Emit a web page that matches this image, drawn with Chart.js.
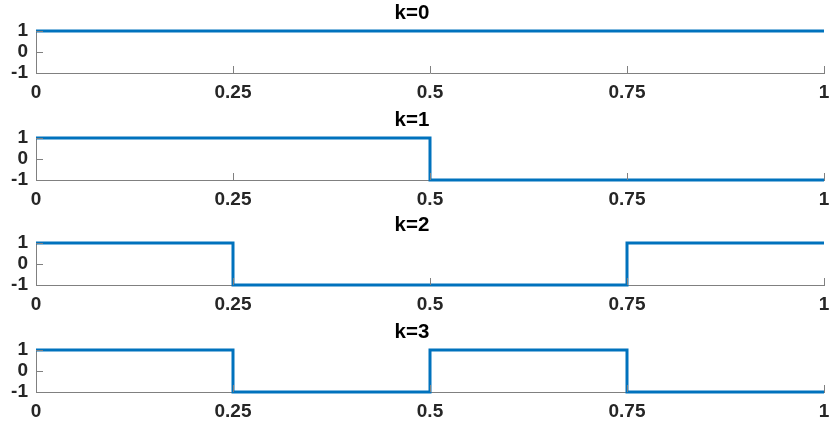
<!DOCTYPE html>
<html>
<head>
<meta charset="utf-8">
<script src="https://cdn.jsdelivr.net/npm/chart.js@4.4.1/dist/chart.umd.min.js"></script>
<style>
  html, body { margin: 0; padding: 0; background: #fff; }
  #wrap { position: relative; width: 830px; height: 425px; }
  .panel { position: absolute; left: 0; width: 830px; height: 107px; }
</style>
</head>
<body>
<div id="wrap">
  <div class="panel" style="top:0px"><canvas id="c0"></canvas></div>
  <div class="panel" style="top:107px"><canvas id="c1"></canvas></div>
  <div class="panel" style="top:212px"><canvas id="c2"></canvas></div>
  <div class="panel" style="top:319px"><canvas id="c3"></canvas></div>
</div>
<script>
// Walsh functions, one value per quarter of [0, 1]
const breakpoints = [0, 0.25, 0.5, 0.75, 1];
const titles = ['k=0', 'k=1', 'k=2', 'k=3'];
const walsh0 = [1, 1, 1, 1];
const walsh1 = [1, 1, -1, -1];
const walsh2 = [1, -1, -1, 1];
const walsh3 = [1, -1, 1, -1];
const xTicks = [0, 0.25, 0.5, 0.75, 1];
const yTicks = [-1, 0, 1];

const series = [walsh0, walsh1, walsh2, walsh3];
const axisColor = '#808080';
const textColor = '#262626';
const fontFamily = "'Liberation Sans', Arial, sans-serif";

// MATLAB-style inward tick marks
const inwardTicks = {
    id: 'inwardTicks',
    afterDraw(chart) {
        const { ctx, scales: { x, y } } = chart;
        ctx.save();
        ctx.strokeStyle = axisColor;
        ctx.lineWidth = 1;
        ctx.beginPath();
        xTicks.forEach(v => {
            const px = Math.round(x.getPixelForValue(v)) + 0.5;
            ctx.moveTo(px, y.bottom);
            ctx.lineTo(px, y.bottom - 7);
        });
        yTicks.forEach(v => {
            const py = Math.round(y.getPixelForValue(v)) + 0.5;
            ctx.moveTo(x.left, py);
            ctx.lineTo(x.left + 7, py);
        });
        ctx.stroke();
        ctx.restore();
    }
};

series.forEach((vals, i) => {
    // point j carries the value of quarter j; the last point closes the final quarter
    const points = breakpoints.map((bx, j) => ({ x: bx, y: vals[Math.min(j, vals.length - 1)] }));
    new Chart(document.getElementById('c' + i), {
        type: 'line',
        data: {
            datasets: [{
                data: points,
                borderColor: '#0072BD',
                borderWidth: 3,
                pointRadius: 0,
                stepped: 'before',
                clip: false
            }]
        },
        options: {
            responsive: true,
            maintainAspectRatio: false,
            animation: false,
            events: [],
            layout: { padding: { left: 0, right: 6, top: 0, bottom: 0 } },
            plugins: {
                legend: { display: false },
                tooltip: { enabled: false },
                title: {
                    display: true,
                    text: titles[i],
                    color: '#000',
                    font: { family: fontFamily, size: 20.5, weight: 'bold' },
                    padding: { top: 1.5, bottom: 4.9 }
                }
            },
            scales: {
                x: {
                    type: 'linear',
                    min: 0,
                    max: 1,
                    afterBuildTicks: s => { s.ticks = xTicks.map(v => ({ value: v })); },
                    afterFit: s => { s.height = 34; s.paddingLeft = 0; s.paddingRight = 0; },
                    grid: { display: false, drawTicks: false, tickLength: 0 },
                    border: { display: true, color: axisColor, width: 1 },
                    ticks: {
                        color: textColor,
                        padding: 8,
                        maxRotation: 0,
                        autoSkip: false,
                        font: { family: fontFamily, size: 19, weight: 'bold' },
                        callback: v => String(v)
                    }
                },
                y: {
                    min: -1,
                    max: 1,
                    afterBuildTicks: s => { s.ticks = yTicks.map(v => ({ value: v })); },
                    afterFit: s => { s.width = 36; },
                    grid: { display: false, drawTicks: false, tickLength: 0 },
                    border: { display: true, color: axisColor, width: 1 },
                    ticks: {
                        color: textColor,
                        padding: 8,
                        autoSkip: false,
                        font: { family: fontFamily, size: 19, weight: 'bold' },
                        callback: v => String(v)
                    }
                }
            }
        },
        plugins: [inwardTicks]
    });
});
</script>
</body>
</html>
